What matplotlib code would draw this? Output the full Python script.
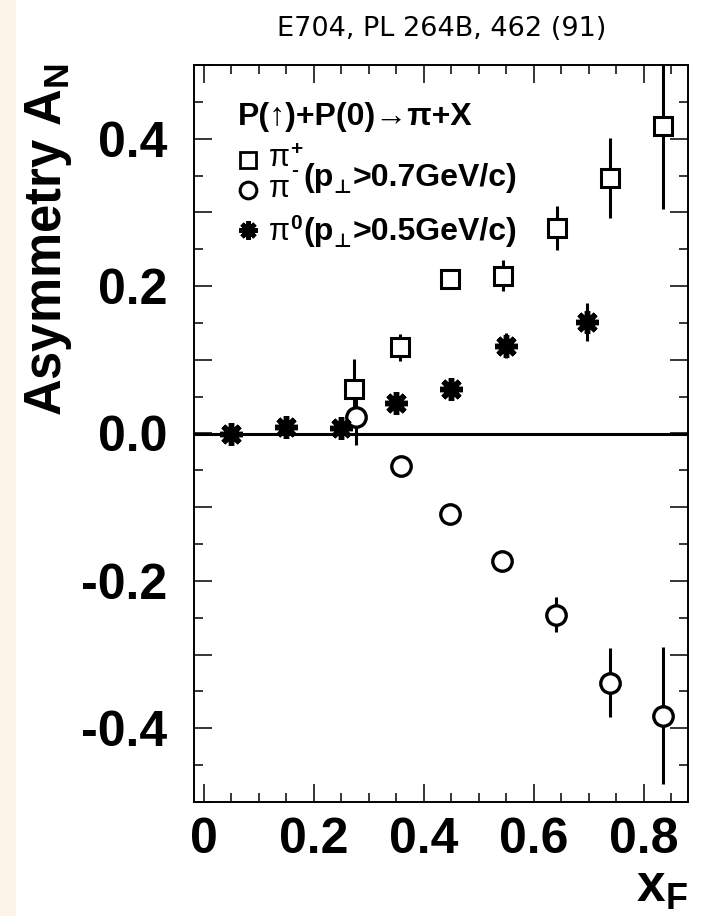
import numpy as np
import matplotlib
matplotlib.use("Agg")
import matplotlib.pyplot as plt
from matplotlib.ticker import MultipleLocator, FuncFormatter
from matplotlib.patches import Rectangle

plt.rcParams['font.family'] = ['Liberation Sans', 'DejaVu Sans']
plt.rcParams['font.weight'] = 'bold'
plt.rcParams['mathtext.fontset'] = 'custom'
plt.rcParams['mathtext.rm'] = 'Liberation Sans:bold'
plt.rcParams['mathtext.it'] = 'Liberation Sans:bold'
plt.rcParams['mathtext.bf'] = 'Liberation Sans:bold'
plt.rcParams['mathtext.sf'] = 'Liberation Sans:bold'
plt.rcParams['axes.unicode_minus'] = False

# E704 data
xf_pip = [0.273, 0.356, 0.447, 0.543, 0.641, 0.738, 0.835]
an_pip = [0.061, 0.117, 0.209, 0.214, 0.279, 0.347, 0.417]
err_pip = [0.040, 0.018, 0.012, 0.021, 0.030, 0.054, 0.113]

xf_pim = [0.276, 0.358, 0.447, 0.541, 0.640, 0.738, 0.835]
an_pim = [0.022, -0.044, -0.109, -0.173, -0.246, -0.338, -0.383]
err_pim = [0.037, 0.010, 0.010, 0.012, 0.024, 0.047, 0.093]

xf_pi0 = [0.050, 0.150, 0.249, 0.349, 0.449, 0.549, 0.697]
an_pi0 = [0.000, 0.009, 0.007, 0.041, 0.061, 0.119, 0.151]
err_pi0 = [0.010, 0.010, 0.010, 0.012, 0.012, 0.017, 0.026]

W, H = 721, 916
fig = plt.figure(figsize=(W / 100, H / 100), dpi=100)
fig.patch.set_facecolor('white')


def fx(px):
    return px / W


def fy(py):
    return 1 - py / H


# peach strip on the left edge
fig.patches.append(Rectangle((0, 0), fx(16), 1, transform=fig.transFigure,
                             facecolor='#fcf4e8', edgecolor='none', zorder=0))

ax = fig.add_axes([fx(194), fy(802), fx(688) - fx(194), fy(65) - fy(802)])
ax.set_xlim(-0.018, 0.88)
ax.set_ylim(-0.5, 0.5)

ax.axhline(0, color='black', lw=2.2, zorder=1)

ekw = dict(ls='none', ecolor='black', elinewidth=2.2, capsize=0, color='black',
           mfc='white', mec='black', zorder=3)
ax.errorbar(xf_pip, an_pip, yerr=err_pip, marker='s', ms=13, mew=2.2, **ekw)
ax.errorbar(xf_pim, an_pim, yerr=err_pim, marker='o', ms=14, mew=2.4, **ekw)
ax.errorbar(xf_pi0, an_pi0, yerr=err_pi0, marker=(8, 2, 0), ms=16.5, mew=3.9, **ekw)

# axis ticks
ax.xaxis.set_major_locator(MultipleLocator(0.2))
ax.xaxis.set_minor_locator(MultipleLocator(0.05))
ax.yaxis.set_major_locator(MultipleLocator(0.1))
ax.yaxis.set_minor_locator(MultipleLocator(0.05))


def xfmt(v, pos):
    if abs(v) < 1e-9:
        return '0'
    return f'{v:.1f}'


def yfmt(v, pos):
    k = int(round(v * 10))
    if k % 2 != 0:
        return ''
    return f'{v:.1f}'.replace('-0.0', '0.0')


ax.xaxis.set_major_formatter(FuncFormatter(xfmt))
ax.yaxis.set_major_formatter(FuncFormatter(yfmt))
ax.tick_params(which='both', direction='in', top=True, right=True, width=1.1,
               colors='black', labelsize=36)
ax.tick_params(which='major', length=13)
ax.tick_params(which='minor', length=6.5)
ax.tick_params(axis='y', pad=19)
ax.tick_params(axis='x', pad=11)
for s in ax.spines.values():
    s.set_linewidth(1.4)

ax.set_ylabel(r'Asymmetry A$_{N}$', fontsize=36.5, fontweight='bold', loc='top')
ax.yaxis.set_label_coords(-0.243, 1.003)
ax.set_xlabel(r'x$_{F}$', fontsize=37, fontweight='bold', loc='right')
ax.xaxis.set_label_coords(1.0, -0.083)
ax.xaxis.label.set_va('top')

fig.text(0.612, fy(36.5), 'E704, PL 264B, 462 (91)', ha='center', va='baseline',
         fontsize=19.5, fontweight='normal', family='DejaVu Sans')

# legend block
fig.text(fx(238), fy(125), 'P(↑)+P(0)→π+X', fontsize=23, fontweight='bold',
         ha='left', va='baseline')
lkw = dict(ls='none', color='black', mfc='white', mec='black',
           transform=fig.transFigure, clip_on=False)
ax.plot([fx(248)], [fy(160)], marker='s', ms=11.5, mew=2.0, **lkw)
ax.plot([fx(248)], [fy(190)], marker='o', ms=12, mew=2.2, **lkw)
ax.plot([fx(248)], [fy(230)], marker=(8, 2, 0), ms=13, mew=3.4, **lkw)

pkw = dict(fontsize=22, fontweight='normal', ha='left', va='baseline')
skw = dict(fontsize=15, ha='left', va='baseline')
fig.text(fx(269), fy(166), 'π', **pkw)
fig.text(fx(290), fy(155), '+', **skw)
fig.text(fx(269), fy(197), 'π', **pkw)
fig.text(fx(291), fy(176), '-', **skw)
fig.text(fx(269), fy(240), 'π', **pkw)
fig.text(fx(290), fy(229), '0', **skw)


def pt_line(x0, ybase, rest):
    # "(p" + subscript perp + rest, chained so the widths come from the fonts
    t1 = fig.text(fx(x0), fy(ybase), '(p', fontsize=23, ha='left', va='baseline')
    t2 = ax.annotate('⊥', xy=(1, 0), xycoords=t1, xytext=(0, 0),
                     textcoords='offset points', fontsize=14, ha='left',
                     va='baseline', annotation_clip=False)
    ax.annotate(rest, xy=(1, 0), xycoords=(t2, t1), xytext=(1, 0),
                textcoords='offset points', fontsize=23, ha='left',
                va='bottom', annotation_clip=False)


pt_line(303, 186, '>0.7GeV/c)')
pt_line(303, 240, '>0.5GeV/c)')

fig.savefig('out.png', dpi=100)
